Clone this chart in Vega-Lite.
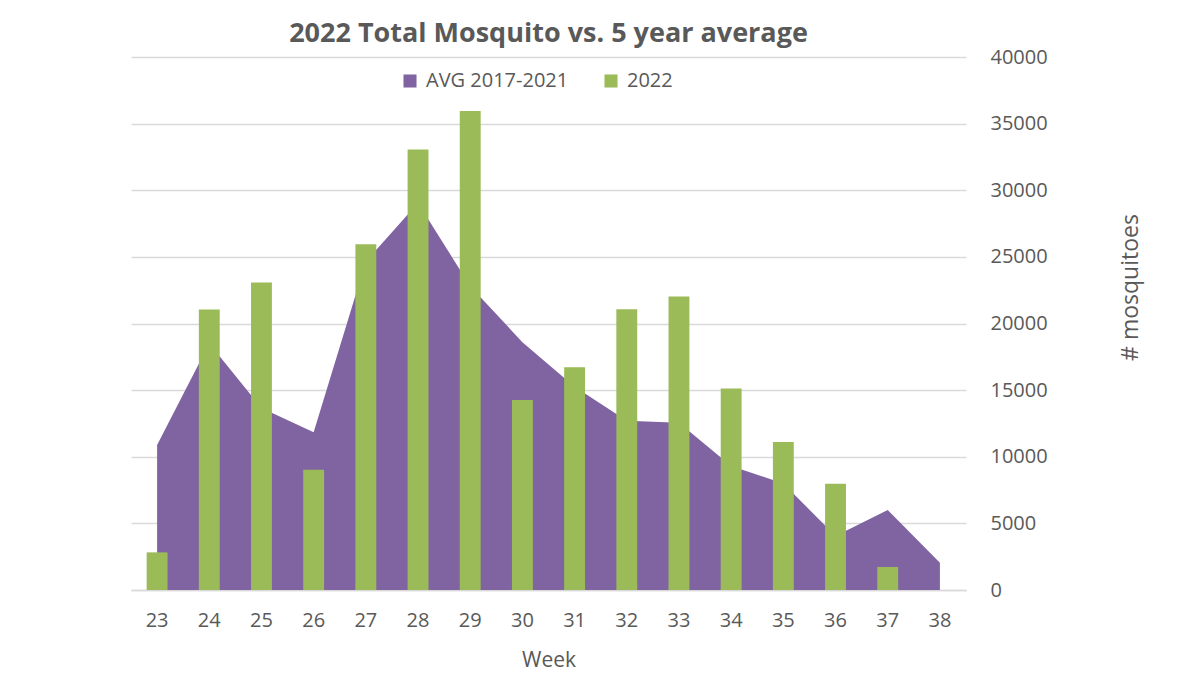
{
  "$schema": "https://vega.github.io/schema/vega-lite/v6.json",
  "autosize": "none",
  "padding": {"left": 131, "top": 57, "right": 228, "bottom": 102},
  "width": 835,
  "height": 533,
  "background": "white",
  "title": {
    "text": "2022 Total Mosquito vs. 5 year average",
    "frame": "group",
    "anchor": "middle",
    "fontSize": 27,
    "fontWeight": "bold",
    "font": "Open Sans",
    "color": "#595959",
    "offset": -1
  },
  "data": {
    "values": [
      {"week": 23, "series": "AVG 2017-2021", "count": 10875},
      {"week": 24, "series": "AVG 2017-2021", "count": 18500},
      {"week": 25, "series": "AVG 2017-2021", "count": 13650},
      {"week": 26, "series": "AVG 2017-2021", "count": 11830},
      {"week": 27, "series": "AVG 2017-2021", "count": 24650},
      {"week": 28, "series": "AVG 2017-2021", "count": 29050},
      {"week": 29, "series": "AVG 2017-2021", "count": 22800},
      {"week": 30, "series": "AVG 2017-2021", "count": 18600},
      {"week": 31, "series": "AVG 2017-2021", "count": 15250},
      {"week": 32, "series": "AVG 2017-2021", "count": 12700},
      {"week": 33, "series": "AVG 2017-2021", "count": 12550},
      {"week": 34, "series": "AVG 2017-2021", "count": 9300},
      {"week": 35, "series": "AVG 2017-2021", "count": 8000},
      {"week": 36, "series": "AVG 2017-2021", "count": 4050},
      {"week": 37, "series": "AVG 2017-2021", "count": 6000},
      {"week": 38, "series": "AVG 2017-2021", "count": 2050},
      {"week": 23, "series": "2022", "count": 2825},
      {"week": 24, "series": "2022", "count": 21050},
      {"week": 25, "series": "2022", "count": 23075},
      {"week": 26, "series": "2022", "count": 9025},
      {"week": 27, "series": "2022", "count": 25950},
      {"week": 28, "series": "2022", "count": 33050},
      {"week": 29, "series": "2022", "count": 35950},
      {"week": 30, "series": "2022", "count": 14250},
      {"week": 31, "series": "2022", "count": 16725},
      {"week": 32, "series": "2022", "count": 21075},
      {"week": 33, "series": "2022", "count": 22025},
      {"week": 34, "series": "2022", "count": 15125},
      {"week": 35, "series": "2022", "count": 11100},
      {"week": 36, "series": "2022", "count": 7975},
      {"week": 37, "series": "2022", "count": 1725}
    ]
  },
  "encoding": {
    "x": {
      "field": "week",
      "type": "ordinal",
      "scale": {"paddingInner": 0.6, "paddingOuter": 0.3},
      "axis": {
        "title": "Week",
        "labelAngle": 0,
        "labelFontSize": 20,
        "labelColor": "#595959",
        "labelFont": "Open Sans",
        "labelPadding": 20,
        "ticks": false,
        "domainColor": "#d9d9d9",
        "domainWidth": 1.5,
        "titleFontSize": 21,
        "titleFont": "Open Sans",
        "titleFontWeight": "normal",
        "titleColor": "#595959",
        "titlePadding": 19
      }
    },
    "y": {
      "field": "count",
      "type": "quantitative",
      "stack": null,
      "scale": {"domain": [0, 40000], "nice": false},
      "axis": {
        "orient": "right",
        "title": "# mosquitoes",
        "values": [0, 5000, 10000, 15000, 20000, 25000, 30000, 35000, 40000],
        "format": "d",
        "labelFontSize": 20,
        "labelColor": "#595959",
        "labelFont": "Open Sans",
        "labelPadding": 24,
        "ticks": false,
        "domain": false,
        "gridColor": "#d9d9d9",
        "gridWidth": 1.5,
        "titleFontSize": 23,
        "titleFont": "Open Sans",
        "titleFontWeight": "normal",
        "titleColor": "#595959",
        "titleAngle": 270,
        "titleAlign": "center",
        "titleBaseline": "middle",
        "titleX": 164,
        "titleY": 230
      }
    },
    "color": {
      "field": "series",
      "type": "nominal",
      "scale": {"domain": ["AVG 2017-2021", "2022"], "range": ["#8064A2", "#9BBB59"]},
      "legend": {
        "title": null,
        "orient": "none",
        "direction": "horizontal",
        "legendX": 269,
        "legendY": 14,
        "symbolType": "square",
        "symbolSize": 170,
        "symbolStrokeWidth": 0,
        "symbolOpacity": 1,
        "labelFontSize": 20,
        "labelFont": "Open Sans",
        "labelColor": "#595959",
        "labelOffset": 6,
        "columnPadding": 32
      }
    }
  },
  "layer": [
    {
      "transform": [{"filter": "datum.series === 'AVG 2017-2021'"}],
      "mark": {"type": "area", "opacity": 1}
    },
    {
      "transform": [{"filter": "datum.series === '2022'"}],
      "mark": {"type": "bar"}
    }
  ],
  "config": {
    "view": {"stroke": null}
  }
}
